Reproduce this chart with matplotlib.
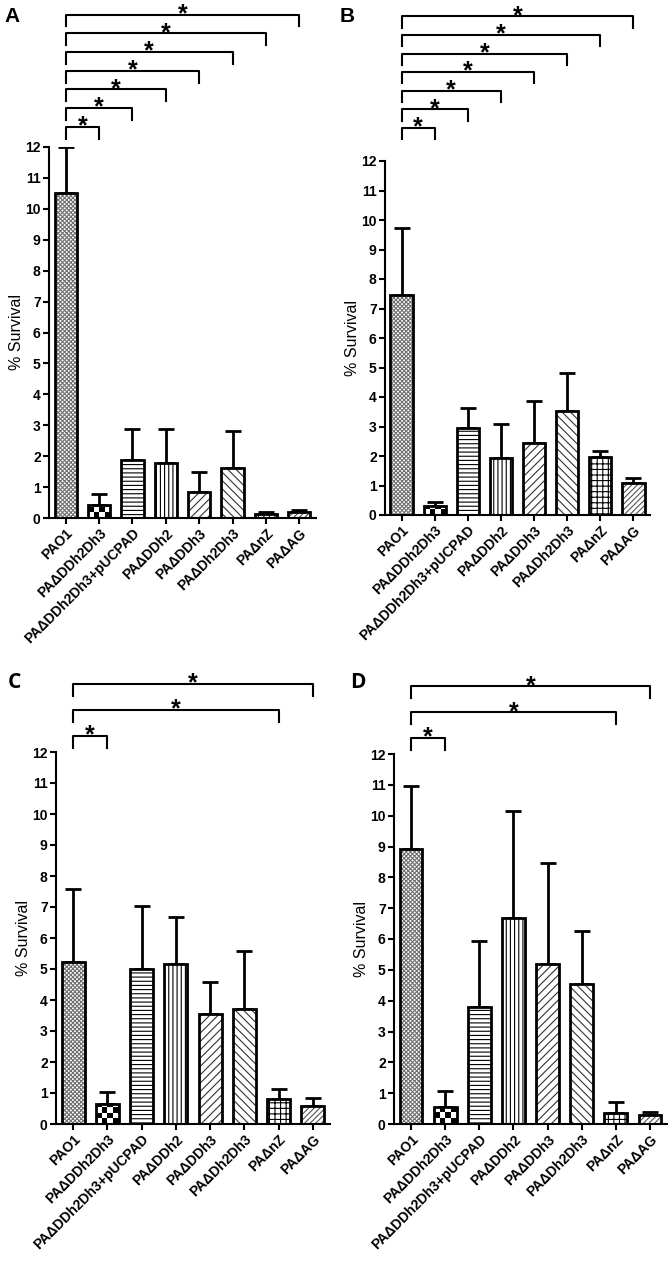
import matplotlib
matplotlib.use("Agg")
import matplotlib.pyplot as plt
import numpy as np

plt.rcParams['font.family'] = ['Liberation Sans', 'DejaVu Sans']
plt.rcParams['hatch.linewidth'] = 0.8

labels = ["PAO1", "PAΔDDh2Dh3", "PAΔDDh2Dh3+pUCPAD", "PAΔDDh2",
          "PAΔDDh3", "PAΔDh2Dh3", "PAΔnZ", "PAΔAG"]

a_mean = [10.5, 0.42, 1.87, 1.77, 0.83, 1.62, 0.12, 0.18]
a_err = [1.5, 0.35, 1.02, 1.1, 0.65, 1.18, 0.08, 0.09]
b_mean = [7.46, 0.32, 2.96, 1.93, 2.45, 3.52, 1.98, 1.1]
b_err = [2.27, 0.13, 0.68, 1.17, 1.42, 1.28, 0.2, 0.14]
c_mean = [5.22, 0.64, 4.99, 5.16, 3.55, 3.71, 0.8, 0.59]
c_err = [2.35, 0.38, 2.05, 1.51, 1.02, 1.88, 0.32, 0.26]
d_mean = [8.93, 0.56, 3.81, 6.68, 5.18, 4.55, 0.37, 0.29]
d_err = [2.04, 0.52, 2.11, 3.46, 3.28, 1.72, 0.33, 0.09]

# significant comparisons against PAO1 (index of the other bar)
sig_ab = [1, 2, 3, 4, 5, 6, 7]
sig_cd = [1, 6, 7]

# hatch style per bar: (hatch, hatch colour)
hatches = [("xxxxxxxx", "#707070"), (None, None), ("----", "black"),
           ("||||", "black"), ("////", "#333333"), ("\\\\\\\\", "#333333"),
           ("+++", "black"), ("//////", "#555555")]

W = 0.67


def draw_panel(ax, mean, err, sig, levels, letter, letter_xy, letter_font):
    x = np.arange(len(mean))
    for i, (m, e) in enumerate(zip(mean, err)):
        h, hc = hatches[i]
        if h is not None:
            ax.bar(x[i], m, W, color="white", edgecolor=hc, hatch=h,
                   linewidth=0, zorder=2)
        else:
            # checkerboard fill
            cell = 0.18
            nrows = max(1, int(np.ceil(m / cell)))
            board = (np.add.outer(np.arange(nrows), np.arange(4)) % 2)
            im = ax.imshow(board, cmap="gray_r", interpolation="nearest",
                           extent=(x[i] - W / 2, x[i] + W / 2, 0, nrows * cell),
                           origin="lower", aspect="auto", zorder=2)
            rect = plt.Rectangle((x[i] - W / 2, 0), W, m, transform=ax.transData)
            im.set_clip_path(rect)
        ax.errorbar(x[i], m, yerr=[[0], [e]], fmt="none", ecolor="black",
                    elinewidth=2, capsize=5.5, capthick=2, zorder=1)
    ax.bar(x, mean, W, fill=False, edgecolor="black", linewidth=2, zorder=3)

    ax.set_xlim(-0.5, 7.5)
    ax.set_ylim(0, 12)
    ax.set_yticks(range(13))
    ax.set_xticks(x)
    ax.set_xticklabels(labels, rotation=45, ha="right", rotation_mode="anchor",
                       fontsize=10, fontweight="bold")
    for t in ax.get_yticklabels():
        t.set_fontsize(10)
        t.set_fontweight("bold")
    ax.set_ylabel("% Survival", fontsize=11.5, labelpad=1)
    for s in ["top", "right"]:
        ax.spines[s].set_visible(False)
    for s in ["left", "bottom"]:
        ax.spines[s].set_linewidth(1.5)
    ax.tick_params(width=1.5, length=4, pad=2)

    for j, lev in zip(sig, levels):
        drop = 0.38
        ax.plot([0, 0, j, j], [lev - drop, lev, lev, lev - drop], color="black",
                lw=1.5, clip_on=False)
        ax.annotate("*", xy=(j / 2, lev), xytext=(0, 9), textcoords="offset points",
                    ha="center", va="top", fontsize=18, fontweight="bold",
                    annotation_clip=False)

    ax.figure.text(letter_xy[0], letter_xy[1], letter, fontsize=15,
                   fontweight="bold", family=letter_font, va="center")


fig = plt.figure(figsize=(6.7, 12.67), dpi=100)
H = 1267.0
axA = fig.add_axes([49 / 670, 1 - 518 / H, 267 / 670, 371 / H])
axB = fig.add_axes([385 / 670, 1 - 515 / H, 265 / 670, 354 / H])
axC = fig.add_axes([56 / 670, 1 - 1124 / H, 274 / 670, 372 / H])
axD = fig.add_axes([394 / 670, 1 - 1124 / H, 273 / 670, 370 / H])

draw_panel(axA, a_mean, a_err, sig_ab, [12.65 + 0.605 * k for k in range(7)],
           "A", (4 / 670, 1 - 17 / H), "Liberation Sans")
draw_panel(axB, b_mean, b_err, sig_ab, [13.12 + 0.63 * k for k in range(7)],
           "B", (340 / 670, 1 - 17 / H), "Liberation Sans")
draw_panel(axC, c_mean, c_err, sig_cd, [12.52, 13.35, 14.19],
           "C", (8 / 670, 1 - 683 / H), "Open Sans")
draw_panel(axD, d_mean, d_err, sig_cd, [12.52, 13.35, 14.19],
           "D", (350 / 670, 1 - 683 / H), "Open Sans")

fig.savefig("out.png", dpi=100)
